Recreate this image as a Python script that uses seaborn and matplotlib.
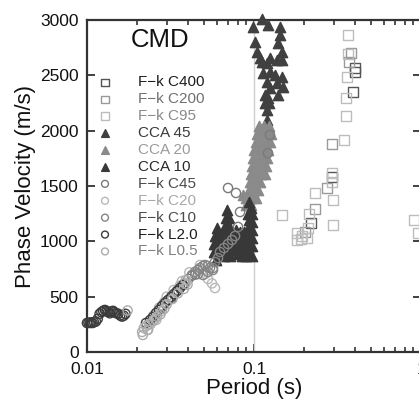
import matplotlib
matplotlib.use("Agg")
import matplotlib.pyplot as plt
import numpy as np
import seaborn as sns
from matplotlib.ticker import LogLocator, NullFormatter

# ---- data (period in s, phase velocity in m/s) ----
c400_period = [0.403, 0.403, 0.392, 0.293, 0.219]
c400_vel = [2566, 2530, 2349, 1581, 1166]

c200_period = [0.371, 0.381, 0.232, 0.202, 0.293, 0.274]
c200_vel = [2620, 2702, 1292, 1084, 1879, 1482]

c95_period = [0.366, 0.366, 0.361, 0.356, 0.356, 0.346, 0.293, 0.293, 0.232, 0.297,
              0.213, 0.211, 0.147, 0.297, 0.181, 0.181, 0.208, 0.195, 0.190, 0.908, 0.959]
c95_vel = [2864, 2693, 2485, 2295, 2132, 1916, 1617, 1536, 1437, 1373,
           1247, 1120, 1238, 1148, 1075, 1012, 1030, 1050, 1020, 1193, 1075]

cca45_period = [0.1116, 0.0987, 0.1213, 0.1432, 0.1432, 0.1014, 0.1393, 0.1042, 0.1471, 0.1086,
                0.1247, 0.1374, 0.1116, 0.1471, 0.1196, 0.1132, 0.1247, 0.1336, 0.1471, 0.1196,
                0.1374, 0.1493, 0.1247, 0.1164, 0.1393, 0.1213, 0.1196, 0.1196, 0.1164, 0.1164, 0.1230]
cca45_vel = [3010, 2936, 2955, 2936, 2864, 2801, 2792, 2711, 2711, 2657,
             2657, 2638, 2620, 2638, 2611, 2521, 2530, 2503, 2485, 2440,
             2431, 2395, 2385, 2322, 2322, 2295, 2187, 2096, 2024, 2250, 2250]

cca20_period = [0.0896, 0.0959, 0.0896, 0.0959, 0.1028, 0.0934, 0.0997, 0.1057,
                0.0947, 0.1014, 0.1086, 0.0959, 0.1028, 0.1101, 0.1164,
                0.0973, 0.1042, 0.1116, 0.1180, 0.0986, 0.1057, 0.1132, 0.1196,
                0.1000, 0.1071, 0.1148, 0.1213, 0.1028, 0.1101, 0.1180, 0.1247,
                0.1042, 0.1116, 0.1196, 0.1264, 0.1071, 0.1148, 0.1230, 0.0860]
cca20_vel = [1328, 1328, 1392, 1392, 1392, 1464, 1464, 1464,
             1536, 1536, 1536, 1608, 1608, 1608, 1608,
             1681, 1681, 1681, 1681, 1753, 1753, 1753, 1753,
             1825, 1825, 1825, 1825, 1898, 1898, 1898, 1898,
             1970, 1970, 1970, 1970, 2042, 2042, 2042, 1419]

cca10_period = [0.0600, 0.0584, 0.0617, 0.0576, 0.0609, 0.0643, 0.0576, 0.0609, 0.0643, 0.0592,
                0.0689, 0.0680, 0.0708, 0.0670, 0.0708, 0.0661, 0.0699, 0.0738, 0.0661, 0.0699,
                0.0738, 0.0680, 0.0718, 0.0759, 0.0661, 0.0718,
                0.0780, 0.0825, 0.0871, 0.0780, 0.0825, 0.0871, 0.0780, 0.0825, 0.0871, 0.0802,
                0.0848, 0.0896,
                0.0934, 0.0959, 0.0921, 0.0973, 0.0934, 0.0973, 0.0921, 0.0973, 0.0934, 0.0973,
                0.0921, 0.0973, 0.0934, 0.0973]
cca10_vel = [1120, 1048, 1048, 976, 976, 976, 904, 904, 904, 831,
             1283, 1211, 1211, 1139, 1139, 1066, 1066, 1066, 994, 994,
             994, 922, 922, 922, 867, 867,
             1102, 1084, 1084, 1030, 1012, 1012, 958, 940, 940, 886,
             867, 867,
             1355, 1301, 1247, 1247, 1193, 1175, 1120, 1102, 1048, 1030,
             976, 958, 904, 867]

c45_period = [0.0699, 0.0780, 0.1247, 0.1213, 0.0825, 0.0802, 0.0385, 0.0405, 0.0425, 0.0445,
              0.0280, 0.0320, 0.0350]
c45_vel = [1482, 1437, 1961, 1798, 1265, 1130, 620, 660, 690, 700,
           400, 480, 560]

c20_period = [0.0475, 0.0490, 0.0510, 0.0530, 0.0560, 0.0584, 0.0370, 0.0410, 0.0330,
              0.0300, 0.0260, 0.0240, 0.0230, 0.0250, 0.0270, 0.0290, 0.0310, 0.0340,
              0.0360, 0.0390]
c20_vel = [786, 741, 705, 660, 620, 578, 640, 720, 560,
           500, 290, 250, 200, 330, 400, 450, 470, 540,
           600, 620]

c10_period = [0.0425, 0.0443, 0.0462, 0.0475, 0.0495, 0.0509, 0.0530, 0.0545, 0.0568, 0.0462,
              0.0495, 0.0530, 0.0568, 0.0584, 0.0609, 0.0626, 0.0661, 0.0699, 0.0738, 0.0770]
c10_vel = [696, 723, 741, 759, 777, 786, 777, 759, 759, 705,
           696, 723, 741, 813, 849, 904, 940, 976, 1012, 1048]

l20_period = [0.0100, 0.0102, 0.0104, 0.0106, 0.0108, 0.0110, 0.0113, 0.0116, 0.0119, 0.0122,
              0.0125, 0.0128, 0.0131, 0.0134, 0.0137, 0.0140, 0.0143, 0.0146, 0.0150, 0.0154,
              0.0158, 0.0162, 0.0166, 0.0170,
              0.02256, 0.02384, 0.02484, 0.02589, 0.02699, 0.02813, 0.02931, 0.03055, 0.03184,
              0.03319, 0.03459, 0.03605, 0.03757]
l20_vel = [262, 265, 262, 268, 262, 270, 275, 300, 345, 360,
           372, 380, 370, 362, 350, 365, 372, 360, 350, 345,
           330, 320, 328, 345,
           262, 289, 316, 352, 380, 416, 443, 470, 497,
           524, 551, 578, 605]

l05_period = [0.0216, 0.0214, 0.0219, 0.0226, 0.0232, 0.0249, 0.0262, 0.0275, 0.0175, 0.0290,
              0.0390, 0.0235, 0.0255, 0.0280, 0.0300, 0.0325, 0.0350, 0.0380, 0.0400]
l05_vel = [154, 181, 217, 235, 200, 280, 320, 340, 375, 390,
           650, 250, 300, 370, 430, 480, 530, 570, 610]

labels = ["F\u2212k C400", "F\u2212k C200", "F\u2212k C95", "CCA 45", "CCA 20", "CCA 10",
          "F\u2212k C45", "F\u2212k C20", "F\u2212k C10", "F\u2212k L2.0", "F\u2212k L0.5"]

sns.set_theme(style="white")
plt.rcParams['font.family'] = ['Liberation Sans', 'DejaVu Sans']

fig = plt.figure(figsize=(4.19, 4.01), dpi=100)
ax = fig.add_axes([87 / 419, 49 / 401, 334 / 419, 332 / 401])

ax.axvline(0.1, color='#cfcfcf', lw=1.0, zorder=1)

# (period, vel, marker, size, color, open?, legend text colour)
series = [
    (c400_period, c400_vel, 's', 52, '#555555', True, '#1e1e1e'),
    (c200_period, c200_vel, 's', 52, '#9a9a9a', True, '#707070'),
    (c95_period, c95_vel, 's', 52, '#bdbdbd', True, '#8a8a8a'),
    (cca45_period, cca45_vel, '^', 55, '#404040', False, '#3a3a3a'),
    (cca20_period, cca20_vel, '^', 55, '#8a8a8a', False, '#9a9a9a'),
    (cca10_period, cca10_vel, '^', 55, '#383838', False, '#2a2a2a'),
    (c45_period, c45_vel, 'o', 44, '#7a7a7a', True, '#4a4a4a'),
    (c20_period, c20_vel, 'o', 44, '#b8b8b8', True, '#a8a8a8'),
    (c10_period, c10_vel, 'o', 44, '#858585', True, '#4a4a4a'),
    (l20_period, l20_vel, 'o', 44, '#3c3c3c', True, '#1e1e1e'),
    (l05_period, l05_vel, 'o', 44, '#acacac', True, '#808080'),
]

for (per, vel, mk, sz, col, hollow, tcol), lab in zip(series, labels):
    sns.scatterplot(x=per, y=vel, marker=mk, s=sz, color=col, ax=ax, label=lab,
                    linewidth=1.0, zorder=3, clip_on=False)
    coll = ax.collections[-1]
    coll.set_edgecolor(col)
    if hollow:
        coll.set_facecolor('none')

ax.set_xscale('log')
ax.set_xlim(0.01, 1.0)
ax.set_ylim(0, 3000)
ax.set_xticks([0.01, 0.1, 1])
ax.set_xticklabels(['0.01', '0.1', '1'])
ax.xaxis.set_minor_locator(LogLocator(base=10, subs=np.arange(2, 10)))
ax.xaxis.set_minor_formatter(NullFormatter())
ax.set_yticks(np.arange(0, 3001, 500))

ax.tick_params(axis='both', which='both', direction='in', top=True, right=True,
               bottom=True, left=True, color='#333333', labelcolor='#111111')
ax.tick_params(axis='both', which='major', length=6, width=1.3, labelsize=12.5)
ax.tick_params(axis='x', which='minor', length=3.5, width=1.2)
ax.tick_params(axis='y', which='major', pad=6)
ax.tick_params(axis='x', which='major', pad=7)

for s in ax.spines.values():
    s.set_linewidth(1.6)
    s.set_color('#333333')

ax.set_xlabel('Period (s)', fontsize=16, color='#111111', labelpad=1)
ax.set_ylabel('Phase Velocity (m/s)', fontsize=16, color='#111111', labelpad=3)

ax.text(0.219, 0.94, 'CMD', transform=ax.transAxes, fontsize=18.5, ha='center',
        va='center', color='#111111')

handles, labs = ax.get_legend_handles_labels()
leg = ax.legend(handles, labs, loc='upper left', bbox_to_anchor=(0.031, 0.833),
                frameon=False, fontsize=11, handlelength=1.0, handletextpad=1.65,
                labelspacing=0.19, borderpad=0, borderaxespad=0, markerscale=0.75)
for txt, ser in zip(leg.get_texts(), series):
    txt.set_color(ser[6])

fig.savefig('out.png', dpi=100)
